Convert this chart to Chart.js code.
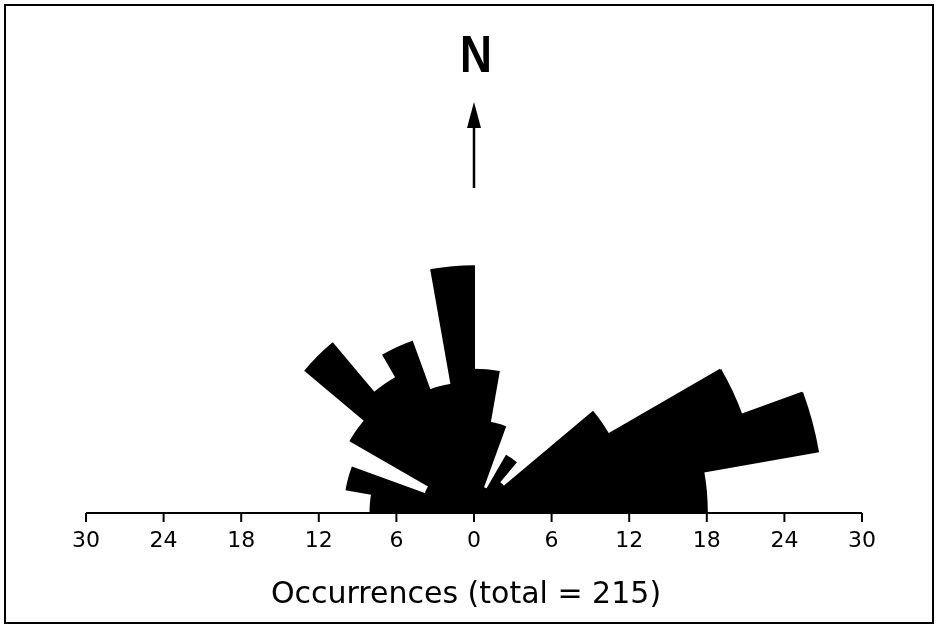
<!DOCTYPE html>
<html>
<head>
<meta charset="utf-8">
<script src="https://cdn.jsdelivr.net/npm/chart.js@4.4.1/dist/chart.umd.min.js"></script>
<style>
  html, body { margin: 0; padding: 0; background: #fff; overflow: hidden; width: 938px; height: 625px; }
  #wrap { position: absolute; left: 0; top: 0; width: 938px; height: 900px; }
</style>
</head>
<body>
<div id="wrap"><canvas id="rose" width="938" height="900"></canvas></div>
<script>
// 10 degree bins, from W (270) clockwise through N to E (90)
var directions = ['270-280', '280-290', '290-300', '300-310', '310-320', '320-330',
                  '330-340', '340-350', '350-360', '0-10', '10-20', '20-30',
                  '30-40', '40-50', '50-60', '60-70', '70-80', '80-90'];
var counts = [8, 10, 4, 11, 17, 12, 14, 10, 19, 11, 7, 2, 5, 3, 12, 22, 27, 18];
// signed positions along the E-W axis, labelled by their absolute value
var axisTicks = [-30, -24, -18, -12, -6, 0, 6, 12, 18, 24, 30];
var caption = 'Occurrences (total = 215)';

/*坐标轴、标题、北向箭头*/
var decor = {
    id: 'decor',
    afterDraw: function(chart) {
        var ctx = chart.ctx;
        var r = chart.scales.r;
        var cx = r.xCenter, cy = r.yCenter + 1;
        ctx.save();
        ctx.strokeStyle = '#000';
        ctx.fillStyle = '#000';

        // horizontal axis
        var ends = r.getDistanceFromCenterForValue(30);
        ctx.lineWidth = 2;
        ctx.beginPath();
        ctx.moveTo(cx - ends, cy);
        ctx.lineTo(cx + ends, cy);
        ctx.stroke();

        ctx.font = '22px "DejaVu Sans"';
        ctx.textAlign = 'center';
        ctx.textBaseline = 'alphabetic';
        axisTicks.forEach(function(v) {
            var x = cx + Math.sign(v) * r.getDistanceFromCenterForValue(Math.abs(v));
            ctx.beginPath();
            ctx.moveTo(x, cy);
            ctx.lineTo(x, cy + 9);
            ctx.stroke();
            ctx.fillText(String(Math.abs(v)), x, cy + 34);
        });

        // caption
        ctx.font = '30px "DejaVu Sans"';
        ctx.fillText(caption, cx - 8, 603);

        // N and arrow
        ctx.save();
        ctx.translate(cx + 2, 72);
        ctx.scale(0.85, 1);
        ctx.font = 'bold 52px "Liberation Sans"';
        ctx.fillText('N', 0, 0);
        ctx.restore();

        ctx.lineWidth = 2.5;
        ctx.beginPath();
        ctx.moveTo(cx, 188);
        ctx.lineTo(cx, 124);
        ctx.stroke();
        ctx.beginPath();
        ctx.moveTo(cx, 102);
        ctx.lineTo(cx - 7, 128);
        ctx.lineTo(cx + 7, 128);
        ctx.closePath();
        ctx.fill();

        // frame
        ctx.lineWidth = 2;
        ctx.strokeRect(5, 5, 928, 618);
        ctx.restore();
    }
};

var ctx = document.getElementById('rose').getContext('2d');
var roseChart = new Chart(ctx, {
    type: 'polarArea',
    data: {
        labels: directions,
        datasets: [{
            data: counts,
            angle: 10,
            backgroundColor: '#000',
            borderColor: '#000',
            borderWidth: 2,
            borderJoinStyle: 'miter'
        }]
    },
    options: {
        responsive: false,
        animation: false,
        layout: {
            padding: { left: 86, right: 76, top: 124, bottom: 0 }
        },
        scales: {
            r: {
                min: 0,
                max: 30,
                startAngle: 270,
                display: false
            }
        },
        plugins: {
            legend: { display: false },
            tooltip: { enabled: false }
        }
    },
    plugins: [decor]
});
</script>
</body>
</html>
